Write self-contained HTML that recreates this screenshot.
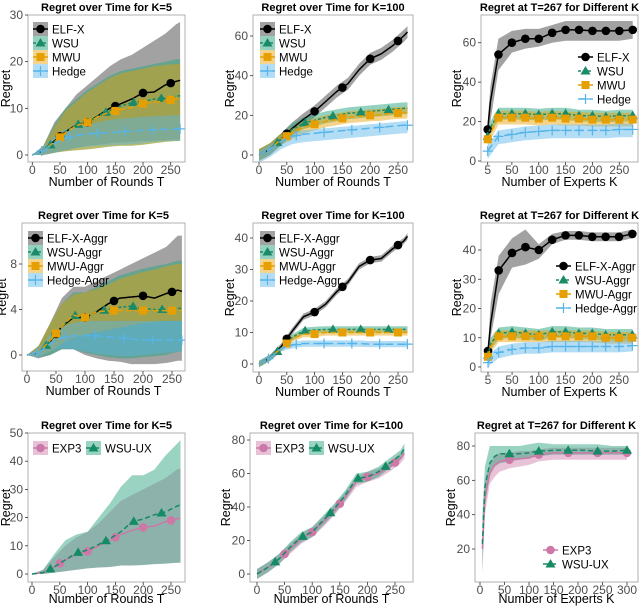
<!DOCTYPE html>
<html><head><meta charset="utf-8">
<style>
body{margin:0;background:#fff;}
svg{display:block;font-family:"Liberation Sans",Arial,sans-serif;}
</style></head>
<body>
<svg id="chart" width="640" height="607" viewBox="0 0 640 607" xmlns="http://www.w3.org/2000/svg"></svg>
<script>
// ---------- data ----------
const tGrid = [0,20,40,60,80,100,120,140,160,180,200,220,240,260,267];
const kGrid = [5,10,25,50,75,100,125,150,175,200,225,250,275];
const kGrid3 = [5,10,20,30,40,60,80,100,120,150,180,210,240,270,300];
const mkElf = [50,100,150,200,250];
const mkWsu = [33,83,133,183,233];
const mkMwu = [50,100,150,200,250];
const mkHedge = [17,67,117,167,217,267];
const mkK = [5,25,50,75,100,125,150,175,200,225,250,275];
const mkK3 = [60,120,180,240,300];

// Panel A (K=5)
const aElf = [0,1,3,5,6.5,7,8.5,10,11,12,13.3,13.5,15,15.8,16];
const aElfHi = [0,2,7,10,13,15,17,19,20.5,21.5,23,24.5,26,28,28.5];
const aElfLo = [0,0,0.5,1,1.5,2,2.2,2.5,2.7,2.8,3,3,3.2,3.3,3.3];
const aWsu = [0,1,2.8,5,6.5,7,8.5,9.5,10.5,11.2,11.5,12,12.2,12.6,12.7];
const aWsuHi = [0,2,6.5,10,12,14,15.5,17,18,18.5,19,19.5,20,20.5,20.5];
const aWsuLo = [0,0,0.5,0.8,1,1.2,1.5,1.8,2,2,2.2,2.5,2.8,3,3];
const aMwu = [0,1,2.8,4.8,6.3,7,8.3,9.2,9.7,10.2,11,11.3,11.6,12,12];
const aMwuHi = [0,2,6,9.5,11.5,13.5,15,16.5,17.5,18,18.5,19,19.3,19.5,19.5];
const aMwuLo = [0,0,0.5,0.8,1,1.2,1.5,1.8,2,2,2.2,2.5,2.8,3,3];
const aHedge = [0,1,2.5,3.6,4.2,4.5,4.7,4.8,5,5.1,5.3,5.4,5.5,5.6,5.6];
const aHedgeHi = [0,2,4,5.5,6,6.5,7,7.5,7.8,8,8.2,8.3,8.4,8.5,8.5];
const aHedgeLo = [0,0,0.5,1,1.5,1.8,2,2.1,2.2,2.3,2.5,2.8,3,3,3];

// Panel B (K=100)
const bElf = [0,3,8,13.5,18,22,27,32,36,43,48.5,51,55,60,62];
const bWsu = [0,3,8,13,16,17.5,19,20,21,21.5,22,22.5,23,23.5,23.5];
const bMwu = [0,3,8,11,14,15.5,17,18,19,19.5,20,20.3,21,21.3,21.5];
const bHedge = [0,3,7,9.5,10.5,11,11.5,12,12.5,13,13.5,14,14.5,15,15];

// Panel C (T=267 vs K)
const cElf = [16,30,54,60,62,62,65,66.5,66.5,66,66,66,66.5];
const cElfLo = [12,20,46,55,57,58,60,61,61,61,61,61,62];
const cElfHi = [20,38,62,66,67,67,69,71,71,71,71,71,71];
const cWsu = [12.5,17,24,24,24,23.5,24,24,23,23,22.5,23,23];
const cMwu = [11,14,22,22,22,21.5,22,21.5,21.5,21,21,21,21];
const cHedge = [5,7,12.5,13.5,14.5,15,15.5,15.5,15.5,15.5,15.5,16,16];

// Panel D (K=5 aggr)
const dElf = [0,0.2,1.2,2.5,3.3,3.3,3.8,4.5,5,5.1,5.2,5,5.4,5.7,5.6];
const dElfHi = [0,0.8,2.8,5,6,6,6.5,7,7.5,8,8.5,9,9.5,10.5,10.5];
const dElfLo = [0,-0.3,0,0.5,0.5,0,-0.3,-0.5,-0.6,-0.8,-0.8,-0.8,-0.7,-0.5,-0.5];
const dWsu = [0,0.2,1.2,2.5,3.5,3.3,3.8,4,4.2,4.3,4.1,4,4,4.1,4.1];
const dWsuHi = [0,0.8,2.8,4.5,5.5,5.5,6,6.5,7,7.3,7.6,7.8,8,8.3,8.3];
const dWsuLo = [0,-0.2,0,0.5,0.5,0.2,0,-0.2,-0.3,-0.3,-0.2,-0.1,0,0.3,0.3];
const dMwu = [0,0.2,1.3,2.5,3.5,3.3,3.8,3.9,3.9,3.9,3.9,3.9,3.9,3.9,3.9];
const dMwuHi = [0,0.8,2.8,4.5,5.3,5.5,5.8,6.2,6.7,7,7.3,7.5,7.8,8,8];
const dMwuLo = [0,-0.1,0.3,1,1.5,1.8,2,2.2,2.4,2.6,2.8,2.9,3,3,3];
const dHedge = [0,0.2,1,1.5,1.7,1.7,1.7,1.6,1.5,1.4,1.3,1.3,1.3,1.3,1.3];
const dHedgeHi = [0,0.6,1.8,2.5,2.8,3,3,3,3,3,3,3,3,3,3];
const dHedgeLo = [0,-0.2,0.3,0.6,0.5,0.3,0.1,0,-0.1,-0.1,0,0.1,0.2,0.3,0.3];

// Panel E (K=100 aggr)
const eElf = [0,2,5.5,10.5,15,16.5,19,23,26,31,33,33.5,36.5,39,40.5];
const eWsu = [0,2,5,8.5,10.5,10.8,11,11,11,11,11,11,11,11,11];
const eMwu = [0,2,5,8,9.5,9.5,10,10,10,10,10,10,10,10,10];
const eHedge = [0,2,5,6,6.5,6.5,6.5,6.5,6.5,6.5,6.3,6.3,6.3,6.3,6.3];

// Panel F (T=267 vs K aggr)
const fElf = [5.5,15,33,39,41,40,43.5,45,45,44.5,44.5,44.5,45.5];
const fElfLo = [4,10,25,34,35,37,42,43.5,43.5,43,43,43,44];
const fElfHi = [7,22,38,44,47,42,45.5,46.5,46.5,46,46,46,47];
const fWsu = [4,8,11.5,12,11.5,11,12,12,11.5,11.5,11,11,11];
const fMwu = [3.5,7,10.5,10.5,10.5,10.5,10.5,10.5,10.5,10.5,10,10,10];
const fHedge = [1.5,3,5,6,6.5,6.5,7,7,7,7,7,7,7.3];

// Panel G (K=5 bandit)
const gExp = [0,0.5,2.5,5,7,8,10,12,14,15.5,16.5,17,18.5,19.5,19.8];
const gExpHi = [0,1.5,6,10,13,15,18,22,26,28,30,32,34,37,37.5];
const gExpLo = [0,0,0.5,1,1.5,2,2.3,2.5,3,3,3.2,3.5,3.7,4,4];
const gUx = [0,0.5,2.5,5,7.5,8.5,10.5,12.5,15,18.5,19.5,21,22,24,24.5];
const gUxHi = [0,1.5,7,12,14,15,20,25,31,35,35,37,42,46,47.5];
const gUxLo = [0,0,0.5,1,1.5,2,2.3,2.5,3,3,3.2,3.5,3.7,4,4];

// Panel H (K=100 bandit)
const hExp = [0,4,9,15,21,25,31,38,46,55,58,60,64,69,72];
const hUx = [0,4,9,16,22,25,32,39,47,57,58,61,66,71,75];

// Panel I (T=267 vs K bandit)
const iExp = [20,50,64,69,71,72,72.5,73,75,76,76,76,76,76,76];
const iExpLo = [5,40,58,62,65,67,68,69,71,72,72,72,72,72,72];
const iExpHi = [35,60,70,74,76,76,77,77,78,79,79,79,79,79,79];
const iUx = [23,56,70,74,75.5,75.5,75.5,76,77,77.5,77.5,77.5,77,77,77.5];
const iUxLo = [8,45,63,68,70,71,72,73,74,75,75,75,75,75,75];
const iUxHi = [40,68,80,80,80,80,80,81,82,81,81,81,81,80,80];

const tTicks = [0,50,100,150,200,250];
const kTicks = [5,50,100,150,200,250];
const kTicks3 = [0,50,100,150,200,250,300];

// ---------- drawing ----------
const NS = "http://www.w3.org/2000/svg";
const svg = document.getElementById('chart');
function el(tag, attrs, parent){
  const e = document.createElementNS(NS, tag);
  for (const k in attrs) e.setAttribute(k, attrs[k]);
  (parent||svg).appendChild(e);
  return e;
}
function addOff(arr, d){ return arr.map(v=>v+d); }
function interp(xs, ys, x){
  if (x<=xs[0]) return ys[0];
  for (let i=1;i<xs.length;i++){ if (x<=xs[i]){ const f=(x-xs[i-1])/(xs[i]-xs[i-1]); return ys[i-1]+f*(ys[i]-ys[i-1]); } }
  return ys[ys.length-1];
}
const STY = {
  elf:{c:'#000000', band:'#555555', ba:0.55, dash:'', m:'circle'},
  wsu:{c:'#1a8a68', band:'#2aa57f', ba:0.5, dash:'3,2', m:'tri'},
  mwu:{c:'#e69f00', band:'#e69f00', ba:0.45, dash:'6,3', m:'square'},
  hedge:{c:'#56b4e9', band:'#56b4e9', ba:0.45, dash:'8,4', m:'plus'},
  exp:{c:'#cc79a7', band:'#cc79a7', ba:0.45, dash:'', m:'circle'},
  ux:{c:'#148a65', band:'#1f9e76', ba:0.45, dash:'5,3', m:'tri'}
};
function marker(g, type, x, y, c, name){
  let e;
  if (type==='circle') e = el('circle',{cx:x,cy:y,r:4.3,fill:c},g);
  else if (type==='tri') e = el('polygon',{points:`${x},${y-5} ${x-5},${y+3.5} ${x+5},${y+3.5}`,fill:c},g);
  else if (type==='square') e = el('rect',{x:x-4,y:y-4,width:8,height:8,fill:c},g);
  else e = el('path',{d:`M${x-5},${y}H${x+5}M${x},${y-5}V${y+5}`,stroke:c,'stroke-width':1.2,fill:'none'},g);
  
  
  return e;
}

function panel(P){
  const g = el('g',{});
  
  
  const sx = v => P.xa[1] + (v-P.xa[0])*(P.xb[1]-P.xa[1])/(P.xb[0]-P.xa[0]);
  const sy = v => P.ya[1] + (v-P.ya[0])*(P.yb[1]-P.ya[1])/(P.yb[0]-P.ya[0]);
  const [L,T,R,B] = P.box;
  const cid = 'clip-'+P.name;
  const cp = el('clipPath',{id:cid},g); el('rect',{x:L,y:T,width:R-L,height:B-T},cp);
  const plot = el('g',{'clip-path':`url(#${cid})`},g);
  P.series.forEach(s=>{
    const st = STY[s.k];
    let d = '';
    P.xs.forEach((x,i)=>{ d += (i?'L':'M')+sx(x).toFixed(1)+','+sy(s.hi[i]).toFixed(1); });
    for (let i=P.xs.length-1;i>=0;i--) d += 'L'+sx(P.xs[i]).toFixed(1)+','+sy(s.lo[i]).toFixed(1);
    const r = el('path',{d:d+'Z',fill:st.band,'fill-opacity':st.ba,stroke:'none'},plot);
    
    
  });
  P.series.forEach(s=>{
    const st = STY[s.k];
    const pts = P.xs.map((x,i)=>sx(x).toFixed(1)+','+sy(s.y[i]).toFixed(1)).join(' ');
    const ln = el('polyline',{points:pts,fill:'none',stroke:st.c,'stroke-width':1.5,'stroke-dasharray':st.dash},plot);
    
    
    s.mk.forEach(mx=>{ marker(plot, st.m, sx(mx), sy(interp(P.xs,s.y,mx)), st.c, s.k+'-marker'); });
  });
  const fr = el('rect',{x:L,y:T,width:R-L,height:B-T,fill:'none',stroke:'#b0b0b0','stroke-width':1},g);
  
  
  P.xt.forEach(v=>{
    const x = sx(v);
    el('line',{x1:x,x2:x,y1:B,y2:B+3,stroke:'#333','stroke-width':0.8},g);
    const t = el('text',{x:x,y:B+12,'text-anchor':'middle','font-size':12,fill:'#4d4d4d'},g);
    t.textContent = v;
    
    
  });
  P.yt.forEach(v=>{
    const y = sy(v);
    el('line',{x1:L-3,x2:L,y1:y,y2:y,stroke:'#333','stroke-width':0.8},g);
    const t = el('text',{x:L-5,y:y+4,'text-anchor':'end','font-size':12,fill:'#4d4d4d'},g);
    t.textContent = v;
    
    
  });
  const tt = el('text',{x:(L+R)/2,y:T-4,'text-anchor':'middle','font-size':11,'font-weight':'bold',fill:'#000'},g);
  tt.textContent = P.title;
  
  
  const xl = el('text',{x:(L+R)/2,y:B+P.xlo,'text-anchor':'middle','font-size':12.5,fill:'#000'},g);
  xl.textContent = P.xlab;
  
  
  const yx = P.ylx, yy = (T+B)/2;
  const yl = el('text',{x:yx,y:yy,'text-anchor':'middle','font-size':12.5,fill:'#000',transform:`rotate(-90 ${yx} ${yy})`},g);
  yl.textContent = 'Regret';
  
  
  const lg = el('g',{},g);
  
  
  let lx = P.leg.x, ly = P.leg.y;
  P.series.forEach((s,i)=>{
    const st = STY[s.k];
    const e = el('g',{},lg);
    
    
    if (P.leg.bg) el('rect',{x:lx,y:ly-7,width:15,height:14,fill:st.band,'fill-opacity':st.ba},e);
    el('line',{x1:lx,x2:lx+15,y1:ly,y2:ly,stroke:st.c,'stroke-width':1.5,'stroke-dasharray':st.dash},e);
    marker(e, st.m, lx+7.5, ly, st.c, 'legend-key');
    const t = el('text',{x:lx+19,y:ly+4.3,'font-size':11.5,fill:'#000'},e);
    t.textContent = s.label;
    if (P.leg.horiz) lx += P.leg.step[i]; else ly += 14;
  });
}

panel({name:'panel-k5', box:[28,15,185,162], xa:[0,32.3], xb:[250,170.7], ya:[0,155], yb:[30,15],
  xs:tGrid, xt:tTicks, yt:[0,10,20,30], title:'Regret over Time for K=5', xlab:'Number of Rounds T', ylx:10, xlo:24,
  leg:{x:33,y:29,bg:true},
  series:[
    {k:'elf',label:'ELF-X',y:aElf,lo:aElfLo,hi:aElfHi,mk:mkElf},
    {k:'wsu',label:'WSU',y:aWsu,lo:aWsuLo,hi:aWsuHi,mk:mkWsu},
    {k:'mwu',label:'MWU',y:aMwu,lo:aMwuLo,hi:aMwuHi,mk:mkMwu},
    {k:'hedge',label:'Hedge',y:aHedge,lo:aHedgeLo,hi:aHedgeHi,mk:mkHedge}]});
panel({name:'panel-k100', box:[253,15,413,162], xa:[0,259], xb:[250,398], ya:[0,155], yb:[60,36],
  xs:tGrid, xt:tTicks, yt:[0,20,40,60], title:'Regret over Time for K=100', xlab:'Number of Rounds T', ylx:234, xlo:24,
  leg:{x:260,y:29,bg:true},
  series:[
    {k:'elf',label:'ELF-X',y:bElf,lo:addOff(bElf,-3),hi:addOff(bElf,3),mk:mkElf},
    {k:'wsu',label:'WSU',y:bWsu,lo:addOff(bWsu,-3),hi:addOff(bWsu,3),mk:mkWsu},
    {k:'mwu',label:'MWU',y:bMwu,lo:addOff(bMwu,-3),hi:addOff(bMwu,3),mk:mkMwu},
    {k:'hedge',label:'Hedge',y:bHedge,lo:addOff(bHedge,-4),hi:addOff(bHedge,2),mk:mkHedge}]});
panel({name:'panel-vs-k', box:[481,15,638,162], xa:[5,487.7], xb:[250,619.3], ya:[0,161], yb:[60,42.7],
  xs:kGrid, xt:kTicks, yt:[0,20,40,60], title:'Regret at T=267 for Different K', xlab:'Number of Experts K', ylx:461, xlo:24,
  leg:{x:578,y:57,bg:false},
  series:[
    {k:'elf',label:'ELF-X',y:cElf,lo:cElfLo,hi:cElfHi,mk:mkK},
    {k:'wsu',label:'WSU',y:cWsu,lo:addOff(cWsu,-3),hi:addOff(cWsu,3),mk:mkK},
    {k:'mwu',label:'MWU',y:cMwu,lo:addOff(cMwu,-3.5),hi:addOff(cMwu,3.5),mk:mkK},
    {k:'hedge',label:'Hedge',y:cHedge,lo:addOff(cHedge,-4),hi:addOff(cHedge,3),mk:mkK}]});

panel({name:'panel-k5-aggr', box:[22,223,185,371], xa:[0,27], xb:[250,172], ya:[0,355], yb:[8,264],
  xs:tGrid, xt:tTicks, yt:[0,4,8], title:'Regret over Time for K=5', xlab:'Number of Rounds T', ylx:6, xlo:24,
  leg:{x:28,y:238,bg:true},
  series:[
    {k:'elf',label:'ELF-X-Aggr',y:dElf,lo:dElfLo,hi:dElfHi,mk:mkElf},
    {k:'wsu',label:'WSU-Aggr',y:dWsu,lo:dWsuLo,hi:dWsuHi,mk:mkWsu},
    {k:'mwu',label:'MWU-Aggr',y:dMwu,lo:dMwuLo,hi:dMwuHi,mk:mkMwu},
    {k:'hedge',label:'Hedge-Aggr',y:dHedge,lo:dHedgeLo,hi:dHedgeHi,mk:mkHedge}]});
panel({name:'panel-k100-aggr', box:[253,223,413,372], xa:[0,259], xb:[250,398], ya:[0,364], yb:[40,238],
  xs:tGrid, xt:tTicks, yt:[0,10,20,30,40], title:'Regret over Time for K=100', xlab:'Number of Rounds T', ylx:234, xlo:24,
  leg:{x:260,y:238,bg:true},
  series:[
    {k:'elf',label:'ELF-X-Aggr',y:eElf,lo:addOff(eElf,-1),hi:addOff(eElf,1),mk:mkElf},
    {k:'wsu',label:'WSU-Aggr',y:eWsu,lo:addOff(eWsu,-1),hi:addOff(eWsu,1),mk:mkWsu},
    {k:'mwu',label:'MWU-Aggr',y:eMwu,lo:addOff(eMwu,-1),hi:addOff(eMwu,1),mk:mkMwu},
    {k:'hedge',label:'Hedge-Aggr',y:eHedge,lo:addOff(eHedge,-1),hi:addOff(eHedge,1),mk:mkHedge}]});
panel({name:'panel-vs-k-aggr', box:[481,223,638,372], xa:[5,488], xb:[250,619], ya:[0,367], yb:[40,250],
  xs:kGrid, xt:kTicks, yt:[0,10,20,30,40], title:'Regret at T=267 for Different K', xlab:'Number of Experts K', ylx:461, xlo:24,
  leg:{x:556,y:266,bg:false},
  series:[
    {k:'elf',label:'ELF-X-Aggr',y:fElf,lo:fElfLo,hi:fElfHi,mk:mkK},
    {k:'wsu',label:'WSU-Aggr',y:fWsu,lo:addOff(fWsu,-2),hi:addOff(fWsu,2),mk:mkK},
    {k:'mwu',label:'MWU-Aggr',y:fMwu,lo:addOff(fMwu,-2),hi:addOff(fMwu,2),mk:mkK},
    {k:'hedge',label:'Hedge-Aggr',y:fHedge,lo:addOff(fHedge,-2),hi:addOff(fHedge,2),mk:mkK}]});

panel({name:'panel-k5-bandit', box:[28,433,185,582], xa:[0,32], xb:[250,171], ya:[0,574], yb:[50,433],
  xs:tGrid, xt:tTicks, yt:[0,10,20,30,40,50], title:'Regret over Time for K=5', xlab:'Number of Rounds T', ylx:10, xlo:21,
  leg:{x:33,y:448,bg:true,horiz:true,step:[53,0]},
  series:[
    {k:'exp',label:'EXP3',y:gExp,lo:gExpLo,hi:gExpHi,mk:mkElf},
    {k:'ux',label:'WSU-UX',y:gUx,lo:gUxLo,hi:gUxHi,mk:mkWsu}]});
panel({name:'panel-k100-bandit', box:[250,433,413,582], xa:[0,257], xb:[250,395], ya:[0,574], yb:[80,440],
  xs:tGrid, xt:tTicks, yt:[0,20,40,60,80], title:'Regret over Time for K=100', xlab:'Number of Rounds T', ylx:230, xlo:21,
  leg:{x:256,y:448,bg:true,horiz:true,step:[53,0]},
  series:[
    {k:'exp',label:'EXP3',y:hExp,lo:addOff(hExp,-3),hi:addOff(hExp,3),mk:mkElf},
    {k:'ux',label:'WSU-UX',y:hUx,lo:addOff(hUx,-3),hi:addOff(hUx,3),mk:mkWsu}]});
panel({name:'panel-vs-k-bandit', box:[475,433,638,582], xa:[0,480], xb:[300,627], ya:[80,446], yb:[20,549],
  xs:kGrid3, xt:kTicks3, yt:[20,40,60,80], title:'Regret at T=267 for Different K', xlab:'Number of Experts K', ylx:455, xlo:21,
  leg:{x:543,y:550,bg:false},
  series:[
    {k:'exp',label:'EXP3',y:iExp,lo:iExpLo,hi:iExpHi,mk:mkK3},
    {k:'ux',label:'WSU-UX',y:iUx,lo:iUxLo,hi:iUxHi,mk:mkK3}]});
</script>
</body></html>
